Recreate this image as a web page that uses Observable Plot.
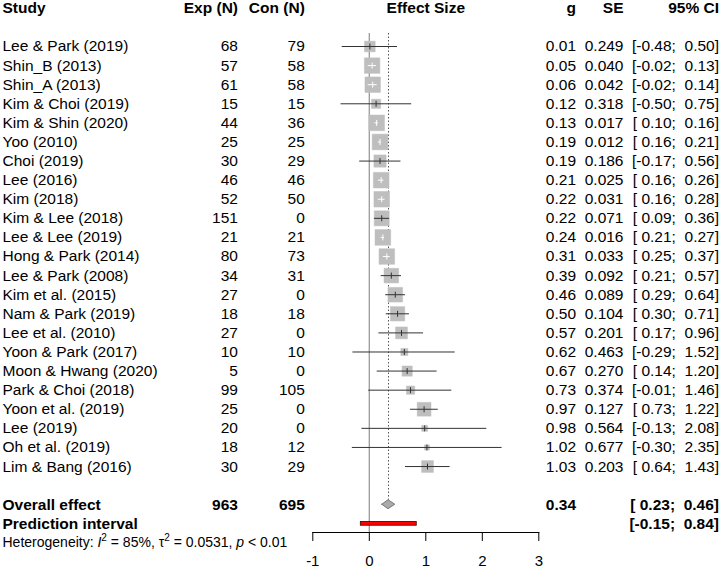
<!DOCTYPE html>
<html><head><meta charset="utf-8">
<script src="https://cdn.jsdelivr.net/npm/d3@7"></script>
<script src="https://cdn.jsdelivr.net/npm/@observablehq/plot@0.6"></script>
<style>body{margin:0;background:#fff;}</style>
</head><body><div id="chart"></div>
<script>
// ---- data ----
const studies = ["Lee & Park (2019)","Shin_B (2013)","Shin_A (2013)","Kim & Choi (2019)","Kim & Shin (2020)","Yoo (2010)","Choi (2019)","Lee (2016)","Kim (2018)","Kim & Lee (2018)","Lee & Lee (2019)","Hong & Park (2014)","Lee & Park (2008)","Kim et al. (2015)","Nam & Park (2019)","Lee et al. (2010)","Yoon & Park (2017)","Moon & Hwang (2020)","Park & Choi (2018)","Yoon et al. (2019)","Lee (2019)","Oh et al. (2019)","Lim & Bang (2016)"];
const expN = [68,57,61,15,44,25,30,46,52,151,21,80,34,27,18,27,10,5,99,25,20,18,30];
const conN = [79,58,58,15,36,25,29,46,50,0,21,73,31,0,18,0,10,0,105,0,0,12,29];
const gVals = [0.01,0.05,0.06,0.12,0.13,0.19,0.19,0.21,0.22,0.22,0.24,0.31,0.39,0.46,0.50,0.57,0.62,0.67,0.73,0.97,0.98,1.02,1.03];
const seVals = [0.249,0.040,0.042,0.318,0.017,0.012,0.186,0.025,0.031,0.071,0.016,0.033,0.092,0.089,0.104,0.201,0.463,0.270,0.374,0.127,0.564,0.677,0.203];
const ciLower = [-0.48,-0.02,-0.02,-0.50,0.10,0.16,-0.17,0.16,0.16,0.09,0.21,0.25,0.21,0.29,0.30,0.17,-0.29,0.14,-0.01,0.73,-0.13,-0.30,0.64];
const ciUpper = [0.50,0.13,0.14,0.75,0.16,0.21,0.56,0.26,0.28,0.36,0.27,0.37,0.57,0.64,0.71,0.96,1.52,1.20,1.46,1.22,2.08,2.35,1.43];
const headers = ["Study","Exp (N)","Con (N)","Effect Size","g","SE","95% CI"];
const overall = {label: "Overall effect", exp: 963, con: 695, g: 0.34, lower: 0.23, upper: 0.46};
const prediction = {label: "Prediction interval", lower: -0.15, upper: 0.84};
const tau2 = 0.0531;
const hetI2 = "85%", hetTau2 = "0.0531", hetP = "< 0.01";
const xTicks = [-1,0,1,2,3];

// ---- layout ----
const W = 719, H = 568;
const mL = 312.3, mR = 180.7, mB = 36;
const pxPerUnit = (W - mL - mR) / 4;
const sideMax = 15.7;
const FS = 15.5;
const rowOverall = studies.length + 1, rowPred = studies.length + 2, rowHet = studies.length + 3;

const fmtCI = v => (v < 0 ? "-" : " ") + Math.abs(v).toFixed(2);
const rows = studies.map((s, i) => ({
  i, study: s, exp: expN[i], con: conN[i], g: gVals[i], se: seVals[i],
  lower: ciLower[i], upper: ciUpper[i], w: 1 / (seVals[i] ** 2 + tau2)
}));
const wMax = d3.max(rows, d => d.w);
rows.forEach(d => {
  const half = sideMax * Math.sqrt(d.w / wMax) / 2 / pxPerUnit;
  d.inside = d.lower >= d.g - half && d.upper <= d.g + half;
});
const outRows = rows.filter(d => !d.inside);
const inRows = rows.filter(d => d.inside);

const vtick = {draw(ctx, size) { const h = Math.sqrt(size / Math.PI); ctx.moveTo(0, -h); ctx.lineTo(0, h); }};
const dH = 0.235;
const diamond = [
  {x: overall.lower, y1: rowOverall, y2: rowOverall},
  {x: overall.g, y1: rowOverall - dH, y2: rowOverall + dH},
  {x: overall.upper, y1: rowOverall, y2: rowOverall}
];

const colX = {study: 2, exp: 237.5, con: 304.3, g: 575.5, se: 623, ci: 718.5};
const L = (px) => ({frameAnchor: "left", dx: px - mL});
const R = (px) => ({frameAnchor: "right", dx: px - (W - mR)});
const T = (data, opts) => Plot.text(data, {fontSize: FS, fill: "#000", ...opts});

const plot = Plot.plot({
  width: W, height: H,
  marginLeft: mL, marginRight: mR, marginTop: 0, marginBottom: mB,
  style: {fontFamily: "'Liberation Sans', Arial, sans-serif", fontSize: "15px", color: "#000", background: "#fff", overflow: "visible"},
  x: {domain: [-1, 3], ticks: xTicks, tickFormat: d => String(d), tickSize: 9, tickPadding: 14, line: true, label: null},
  y: {domain: [rowPred + 0.455, -2.41], axis: null},
  r: {type: "sqrt", domain: [0, wMax], range: [0, sideMax / Math.sqrt(Math.PI)]},
  marks: [
    Plot.ruleX([0], {y1: -0.68, y2: rowPred + 0.455, stroke: "#9a9a9a", strokeWidth: 1.3}),
    Plot.ruleX([overall.g], {y1: -0.68, y2: rowOverall - dH, stroke: "#555", strokeDasharray: "1.5,2", strokeWidth: 1}),
    Plot.dot(rows, {x: "g", y: "i", r: "w", symbol: "square", fill: "#bebebe", stroke: "#bebebe", strokeWidth: 0.5}),
    Plot.ruleY(outRows, {y: "i", x1: "lower", x2: "upper", stroke: "#333", strokeWidth: 1}),
    Plot.ruleY(inRows, {y: "i", x1: "lower", x2: "upper", stroke: "#fff", strokeWidth: 1}),
    Plot.dot(outRows, {x: "g", y: "i", r: 3, symbol: vtick, stroke: "#333", fill: "none", strokeWidth: 1}),
    Plot.dot(inRows, {x: "g", y: "i", r: 3, symbol: vtick, stroke: "#fff", fill: "none", strokeWidth: 1}),
    Plot.areaY(diamond, {x: "x", y1: "y1", y2: "y2", fill: "#aaa", stroke: "#777", strokeWidth: 1}),
    Plot.rect([prediction], {x1: "lower", x2: "upper", y1: () => rowPred - 0.1, y2: () => rowPred + 0.1, fill: "red", stroke: "#400", strokeWidth: 0.8}),
    // header
    T([headers[0]], {y: () => -2, text: d => d, fontWeight: "bold", textAnchor: "start", ...L(colX.study)}),
    T([headers[1]], {y: () => -2, text: d => d, fontWeight: "bold", textAnchor: "end", ...L(colX.exp)}),
    T([headers[2]], {y: () => -2, text: d => d, fontWeight: "bold", textAnchor: "end", ...L(colX.con)}),
    T([headers[3]], {y: () => -2, text: d => d, fontWeight: "bold", frameAnchor: "middle"}),
    T([headers[4]], {y: () => -2, text: d => d, fontWeight: "bold", textAnchor: "end", ...R(colX.g)}),
    T([headers[5]], {y: () => -2, text: d => d, fontWeight: "bold", textAnchor: "end", ...R(colX.se)}),
    T([headers[6]], {y: () => -2, text: d => d, fontWeight: "bold", textAnchor: "end", ...R(colX.ci)}),
    // study rows
    T(rows, {y: "i", text: "study", textAnchor: "start", ...L(colX.study)}),
    T(rows, {y: "i", text: d => String(d.exp), textAnchor: "end", ...L(colX.exp)}),
    T(rows, {y: "i", text: d => String(d.con), textAnchor: "end", ...L(colX.con)}),
    T(rows, {y: "i", text: d => d.g.toFixed(2), textAnchor: "end", ...R(colX.g)}),
    T(rows, {y: "i", text: d => d.se.toFixed(3), textAnchor: "end", ...R(colX.se)}),
    T(rows, {y: "i", text: d => `[${fmtCI(d.lower)}; ${fmtCI(d.upper)}]`, textAnchor: "end", ...R(colX.ci)}),
    // overall
    T([overall], {y: () => rowOverall, text: "label", fontWeight: "bold", textAnchor: "start", ...L(colX.study)}),
    T([overall], {y: () => rowOverall, text: d => String(d.exp), fontWeight: "bold", textAnchor: "end", ...L(colX.exp)}),
    T([overall], {y: () => rowOverall, text: d => String(d.con), fontWeight: "bold", textAnchor: "end", ...L(colX.con)}),
    T([overall], {y: () => rowOverall, text: d => d.g.toFixed(2), fontWeight: "bold", textAnchor: "end", ...R(colX.g)}),
    T([overall], {y: () => rowOverall, text: d => `[${fmtCI(d.lower)}; ${fmtCI(d.upper)}]`, fontWeight: "bold", textAnchor: "end", ...R(colX.ci)}),
    // prediction
    T([prediction], {y: () => rowPred, text: "label", fontWeight: "bold", textAnchor: "start", ...L(colX.study)}),
    T([prediction], {y: () => rowPred, text: d => `[${fmtCI(d.lower)}; ${fmtCI(d.upper)}]`, fontWeight: "bold", textAnchor: "end", ...R(colX.ci)}),
    // heterogeneity
    T([`Heterogeneity: I2 = ${hetI2}, τ2 = ${hetTau2}, p ${hetP}`], {y: () => rowHet, text: d => d, fontSize: 14, textAnchor: "start", ...L(colX.study)})
  ]
});

// rich text for heterogeneity line
d3.select(plot).selectAll("text").filter(function() { return this.textContent.startsWith("Heterogeneity"); }).each(function() {
  const t = d3.select(this);
  t.text(null);
  t.append("tspan").text("Heterogeneity: ");
  t.append("tspan").attr("font-style", "italic").text("I");
  t.append("tspan").attr("font-size", "10px").attr("dy", -6).text("2");
  t.append("tspan").attr("dy", 6).text(` = ${hetI2}, τ`);
  t.append("tspan").attr("font-size", "10px").attr("dy", -6).text("2");
  t.append("tspan").attr("dy", 6).text(` = ${hetTau2}, `);
  t.append("tspan").attr("font-style", "italic").text("p");
  t.append("tspan").text(` ${hetP}`);
});

document.getElementById("chart").appendChild(plot);
</script>
</body></html>
